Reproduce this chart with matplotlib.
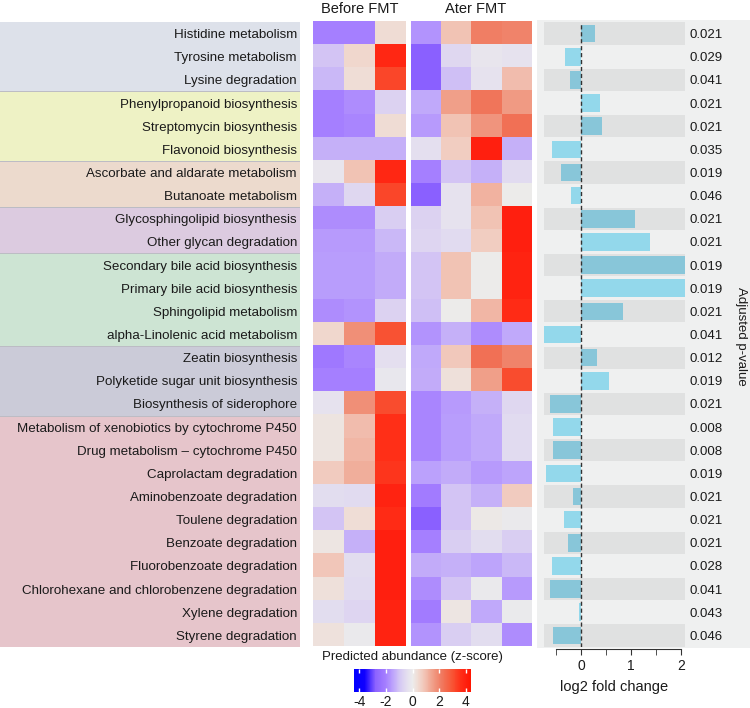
import matplotlib
matplotlib.use("Agg")
import matplotlib.pyplot as plt
import numpy as np
from matplotlib.colors import LinearSegmentedColormap, Normalize
from matplotlib.cm import ScalarMappable
from matplotlib.transforms import blended_transform_factory

plt.rcParams['font.family'] = ['Liberation Sans', 'DejaVu Sans']
plt.rcParams['axes.unicode_minus'] = False

categories = [
    "Histidine metabolism", "Tyrosine metabolism", "Lysine degradation",
    "Phenylpropanoid biosynthesis", "Streptomycin biosynthesis", "Flavonoid biosynthesis",
    "Ascorbate and aldarate metabolism", "Butanoate metabolism",
    "Glycosphingolipid biosynthesis", "Other glycan degradation",
    "Secondary bile acid biosynthesis", "Primary bile acid biosynthesis",
    "Sphingolipid metabolism", "alpha-Linolenic acid metabolism",
    "Zeatin biosynthesis", "Polyketide sugar unit biosynthesis", "Biosynthesis of siderophore",
    "Metabolism of xenobiotics by cytochrome P450", "Drug metabolism \u2013 cytochrome P450",
    "Caprolactam degradation", "Aminobenzoate degradation", "Toulene degradation",
    "Benzoate degradation", "Fluorobenzoate degradation",
    "Chlorohexane and chlorobenzene degradation", "Xylene degradation", "Styrene degradation",
]

group_sizes = [3, 3, 2, 2, 4, 3, 10]
group_colors = ["#dde1ea", "#eef2c5", "#ecdacd", "#dccbe0", "#cde4d3", "#cbcbd8", "#e6c5cb"]

before_fmt = [
    [-2.0, -2.0, 0.4], [-1.0, 0.5, 3.8], [-1.2, 0.35, 3.2],
    [-2.0, -1.8, -0.7], [-2.0, -1.9, 0.4], [-1.3, -1.3, -1.3],
    [-0.2, 0.9, 3.8], [-1.3, -0.6, 3.2],
    [-1.8, -1.8, -0.8], [-1.6, -1.6, -1.2],
    [-1.55, -1.55, -1.35], [-1.55, -1.55, -1.35], [-1.8, -1.7, -0.7], [0.5, 1.8, 3.0],
    [-2.2, -1.9, -0.4], [-2.0, -2.0, -0.15], [-0.3, 1.8, 3.1],
    [0.2, 1.0, 3.6], [0.2, 1.1, 3.6], [0.75, 1.25, 3.5], [-0.45, -0.5, 3.9],
    [-1.0, 0.35, 3.7], [0.15, -1.3, 4.0], [0.85, -0.45, 4.0], [0.3, -0.5, 4.0],
    [-0.45, -0.65, 3.9], [0.25, -0.1, 3.9],
]

after_fmt = [
    [-1.7, 0.9, 2.1, 2.0], [-2.8, -0.6, -0.2, -0.3], [-2.8, -1.1, -0.3, 1.0],
    [-1.4, 1.5, 2.3, 1.6], [-1.6, 0.9, 1.7, 2.4], [-0.4, 0.7, 4.0, -1.3],
    [-2.0, -1.0, -1.3, -0.5], [-2.8, -0.3, 1.2, 0.0],
    [-0.7, -0.3, 0.9, 4.0], [-0.65, -0.5, 0.7, 4.0],
    [-1.0, 0.9, 0.0, 3.9], [-1.0, 0.9, 0.0, 3.9], [-1.1, 0.0, 1.1, 3.7], [-1.7, -1.3, -1.8, -1.4],
    [-1.4, 0.8, 2.4, 2.0], [-1.35, 0.3, 1.5, 3.1], [-1.9, -1.6, -1.3, -0.6],
    [-1.9, -1.55, -1.4, -0.5], [-1.9, -1.55, -1.4, -0.5], [-1.5, -1.35, -1.6, -1.45],
    [-2.1, -1.0, -1.3, 0.75], [-2.8, -1.0, 0.1, -0.1], [-2.0, -0.8, -0.45, -0.8],
    [-1.35, -1.3, -1.45, -1.2], [-1.8, -1.0, -0.1, -1.6], [-2.1, 0.15, -1.4, -0.05],
    [-1.7, -0.8, -0.45, -1.8],
]

log2fc = [0.27, -0.32, -0.23, 0.38, 0.41, -0.59, -0.41, -0.21, 1.08, 1.38, 2.6, 2.6,
          0.83, -0.78, 0.32, 0.55, -0.63, -0.57, -0.57, -0.70, -0.17, -0.34, -0.26,
          -0.59, -0.63, -0.04, -0.57]

pvals = ["0.021", "0.029", "0.041", "0.021", "0.021", "0.035", "0.019", "0.046", "0.021",
         "0.021", "0.019", "0.019", "0.021", "0.041", "0.012", "0.019", "0.021", "0.008",
         "0.008", "0.019", "0.021", "0.021", "0.021", "0.028", "0.041", "0.043", "0.046"]

fc_ticks = [0, 1, 2]
fc_minor = [-0.5, 0.5, 1.5]
cbar_ticks = [-4, -2, 0, 2, 4]

# colormap
VMIN, VMAX = -4.4, 4.4
nodes = [(-4.4, "#0000ff"), (-3.6, "#1000ff"), (-2.8, "#8c62ff"), (-2.0, "#a680ff"),
         (-1.5, "#bca2fc"), (-1.0, "#d4c6f4"), (-0.5, "#e2dcf0"), (0.0, "#ececec"),
         (0.4, "#f0dcd4"), (0.9, "#f2c4b6"), (1.5, "#f0a08a"), (2.2, "#f07a60"),
         (3.0, "#f85434"), (3.6, "#ff3018"), (4.0, "#ff2010"), (4.4, "#ff1500")]
cmap = LinearSegmentedColormap.from_list(
    "fmt", [((v - VMIN) / (VMAX - VMIN), c) for v, c in nodes])
norm = Normalize(VMIN, VMAX)

W, H = 750, 708
fig = plt.figure(figsize=(W / 100, H / 100), dpi=100)

def ax_px(x0, y0, x1, y1, **kw):
    return fig.add_axes([x0 / W, 1 - y1 / H, (x1 - x0) / W, (y1 - y0) / H], **kw)

n = len(categories)
TOP, BOT = 22, 647
txt = "#1a1a1a"

# left label panel
axl = ax_px(0, TOP, 300, BOT)
axl.set_xlim(0, 1)
axl.set_ylim(n, 0)
start = 0
for size, col in zip(group_sizes, group_colors):
    axl.axhspan(start, start + size, color=col, lw=0)
    if start > 0:
        axl.axhline(start, color="#bcbcc4", lw=0.7)
    start += size
for i, lab in enumerate(categories):
    axl.text(0.99, i + 0.5, lab, ha="right", va="center_baseline", fontsize=9.6, color=txt)
axl.axis("off")

# heatmaps
axb = ax_px(313, 21, 406, 646)
axb.imshow(np.array(before_fmt), cmap=cmap, norm=norm, aspect="auto", interpolation="nearest")
axb.axis("off")
axa = ax_px(411, 21, 532, 646)
axa.imshow(np.array(after_fmt), cmap=cmap, norm=norm, aspect="auto", interpolation="nearest")
axa.axis("off")
fig.text(360 / W, 1 - 9 / H, "Before FMT", ha="center", va="center", fontsize=10.5, color=txt)
fig.text(476 / W, 1 - 9 / H, "Ater FMT", ha="center", va="center", fontsize=10.5, color=txt)

# bar panel background
axbg = ax_px(537, 20, 750, 648)
axbg.set_facecolor("#eff0f0")
axbg.set_xticks([]); axbg.set_yticks([])
for s in axbg.spines.values():
    s.set_visible(False)

axr = ax_px(544, TOP, 685, BOT)
axr.set_facecolor("none")
xmin, xmax = -0.74, 2.08
axr.set_xlim(xmin, xmax)
axr.set_ylim(n - 0.5, -0.5)
rows = np.arange(n)
even = rows[::2]
axr.barh(even, [xmax - xmin] * len(even), left=xmin, height=0.96, color="#e0e1e1", lw=0)
bar_cols = ["#88c6d9" if i % 2 == 0 else "#93d8eb" for i in rows]
axr.barh(rows, log2fc, height=0.76, color=bar_cols, lw=0)
axr.axvline(0, color="#333333", ls=(0, (3, 2)), lw=1)
for s in ["top", "right", "left"]:
    axr.spines[s].set_visible(False)
axr.spines["bottom"].set_bounds(-0.5, 2)
axr.spines["bottom"].set_color("#333333")
axr.spines["bottom"].set_position(("outward", 1.5))
axr.set_yticks([])
axr.set_xticks(fc_ticks)
axr.set_xticks(fc_minor, minor=True)
axr.tick_params(axis="x", which="both", length=4, color="#333333", labelsize=10, labelcolor=txt, pad=3)
axr.set_xlabel("log2 fold change", fontsize=10.5, color=txt, labelpad=5)

tr = blended_transform_factory(fig.transFigure, axr.transData)
for i, p in enumerate(pvals):
    axr.text(690 / W, i, p, transform=tr, ha="left", va="center_baseline", fontsize=9.5, color=txt)
fig.text(741 / W, 1 - 336 / H, "Adjusted p-value", rotation=270, ha="center", va="center",
         fontsize=9.5, color=txt)

# colorbar
fig.text(412 / W, 1 - 657 / H, "Predicted abundance (z-score)", ha="center", va="center",
         fontsize=9.5, color=txt)
cax = ax_px(354, 669, 471, 692)
cb = fig.colorbar(ScalarMappable(norm=norm, cmap=cmap), cax=cax, orientation="horizontal",
                  ticks=cbar_ticks)
cb.outline.set_visible(False)
cax.xaxis.set_ticks_position("both")
cax.tick_params(which="both", direction="in", length=3, color="white", width=1,
                labelsize=10, labelcolor=txt, pad=2, labeltop=False, labelbottom=True)
cax.minorticks_off()

fig.savefig("out.png", dpi=100)
